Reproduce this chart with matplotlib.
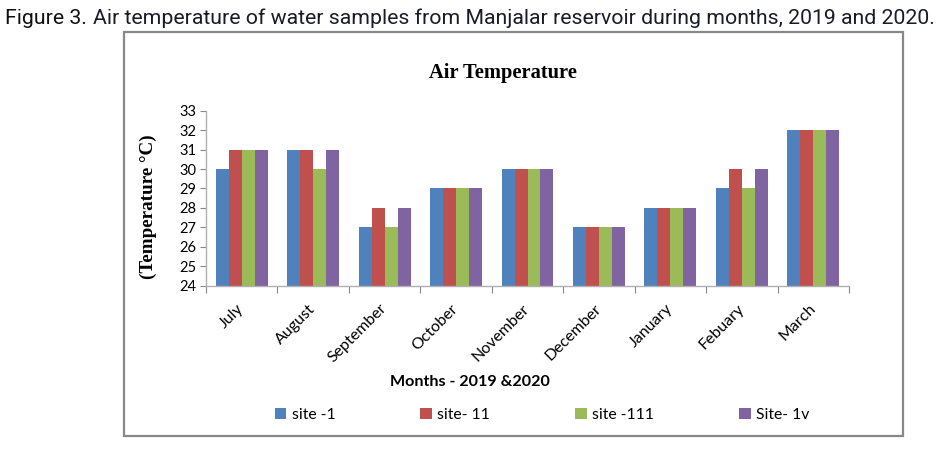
import matplotlib
matplotlib.use("Agg")
import matplotlib.pyplot as plt
import numpy as np
from matplotlib.patches import Rectangle

# ── Data ─────────────────────────────────────────────────────────────────────
months = ["July", "August", "September", "October", "November",
          "December", "January", "Febuary", "March"]
site_1 = [30, 31, 27, 29, 30, 27, 28, 29, 32]
site_11 = [31, 31, 28, 29, 30, 27, 28, 30, 32]
site_111 = [31, 30, 27, 29, 30, 27, 28, 29, 32]
site_1v = [31, 31, 28, 29, 30, 27, 28, 30, 32]
series_names = ["site -1", "site- 11", "site -111", "Site- 1v"]
colors = ["#4F81BD", "#C0504D", "#9BBB59", "#8064A2"]
yticks = list(range(24, 34))

W, H = 943, 450
fig = plt.figure(figsize=(W / 100, H / 100), dpi=100)

def fx(px):
    return px / W

def fy(py):
    return 1 - py / H

tick_font = "Lato"
serif = "Liberation Serif"

# ── Chart frame ──────────────────────────────────────────────────────────────
fig.patches.append(Rectangle((fx(124), fy(436)), fx(903) - fx(124), fy(32) - fy(436),
                             transform=fig.transFigure, fill=False,
                             edgecolor="#888888", linewidth=1.6))

# ── Axes ─────────────────────────────────────────────────────────────────────
ax = fig.add_axes([fx(206), fy(285.7), fx(849) - fx(206), fy(110.7) - fy(285.7)])

x = np.arange(len(months)) + 0.5
bw = 1 / 5.5
for i, (vals, c, name) in enumerate(zip([site_1, site_11, site_111, site_1v],
                                        colors, series_names)):
    ax.bar(x + (i - 1.5) * bw, np.array(vals) - 24, bottom=24, width=bw,
           color=c, label=name, linewidth=0)

ax.set_xlim(0, len(months))
ax.set_ylim(24, 33)
ax.set_yticks(yticks)
ax.set_yticklabels([str(t) for t in yticks], fontsize=10.5, family=tick_font)
ax.set_xticks(np.arange(len(months) + 1))
ax.set_xticklabels([])
ax.set_xticks(x, minor=True)
ax.set_xticklabels(months, minor=True, rotation=45, ha="right", va="center",
                   rotation_mode="anchor", fontsize=11.5, family=tick_font)
ax.tick_params(axis="x", which="minor", length=0, pad=15)
ax.tick_params(axis="x", which="major", length=5, color="#888888", direction="out")
ax.tick_params(axis="y", length=4, color="#888888", direction="out", pad=3)

for s in ["top", "right"]:
    ax.spines[s].set_visible(False)
for s in ["left", "bottom"]:
    ax.spines[s].set_color("#b0b0b0")
    ax.spines[s].set_linewidth(1.0)

# ── Texts ────────────────────────────────────────────────────────────────────
fig.text(fx(503), fy(73), "Air Temperature", ha="center", va="center",
         family=serif, fontweight="bold", fontsize=14.8)
fig.text(fx(148), fy(207), "(Temperature °C)", ha="center", va="center",
         rotation=90, family=serif, fontweight="bold", fontsize=13.8)
fig.text(fx(470), fy(382), "Months - 2019 &2020", ha="center", va="center",
         family=tick_font, fontweight="bold", fontsize=11.6)

fig.legend(loc="center", bbox_to_anchor=(fx(542), fy(415)), ncol=4,
           frameon=False, prop={"family": tick_font, "size": 11.3},
           handlelength=0.75, handleheight=0.75, handletextpad=0.35,
           columnspacing=5.4)

# ── Caption, fitted to the reference width ───────────────────────────────────
cap_font = "Roboto"
cap_size = 13
renderer = fig.canvas.get_renderer()
t1 = fig.text(fx(5), fy(18), "Figure 3.", ha="left", va="center",
              family=cap_font, fontsize=cap_size, color="#111111")
bb = t1.get_window_extent(renderer)
t2 = fig.text((bb.x1 + 5) / W, fy(18),
              "Air temperature of water samples from Manjalar reservoir during months, 2019 and 2020.",
              ha="left", va="center", family=cap_font, fontsize=cap_size, color="#1a1a2a")
bb2 = t2.get_window_extent(renderer)
scale = (937 - 5) / (bb2.x1 - bb.x0)
cap_size *= scale
t1.set_fontsize(cap_size)
bb = t1.get_window_extent(renderer)
t2.set_fontsize(cap_size)
t2.set_x((bb.x1 + 5 * scale) / W)

fig.savefig("out.png", dpi=100)
